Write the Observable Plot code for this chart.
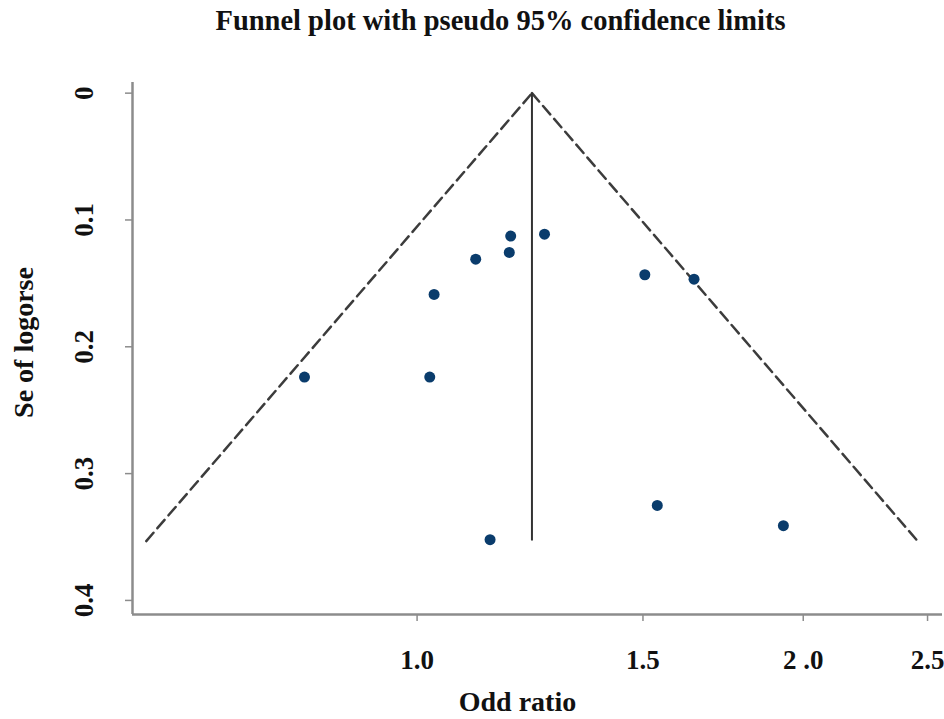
<!DOCTYPE html>
<html>
<head>
<meta charset="utf-8">
<script src="https://cdn.jsdelivr.net/npm/d3@7"></script>
<script src="https://cdn.jsdelivr.net/npm/@observablehq/plot@0.6"></script>
<style>
  html, body { margin: 0; padding: 0; background: #fff; }
  #chart svg { display: block; }
</style>
</head>
<body>
<div id="chart"></div>
<script>
// ---- Data ----
const title = "Funnel plot with pseudo 95% confidence limits";
const xLabel = "Odd ratio";
const yLabel = "Se of logorse";

// study odds ratios and standard errors of log OR
const studyOR = [1.183, 1.257, 1.180, 1.111, 1.031, 1.505, 1.644, 0.817, 1.023, 1.140, 1.539, 1.930];
const studySE = [0.1127, 0.1112, 0.1256, 0.1309, 0.1587, 0.1432, 0.1467, 0.2239, 0.2239, 0.3521, 0.3251, 0.3411];

// pooled estimate and funnel extent
const pooledOR = 1.229;
const maxSE = 0.3532;
const zCrit = 1.96;

// axes
const xTicks = [1.0, 1.5, 2.0, 2.5];
const xTickLabels = ["1.0", "1.5", "2 .0", "2.5"];
const yTicks = [0, 0.1, 0.2, 0.3, 0.4];
const yTickLabels = ["0", "0.1", "0.2", "0.3", "0.4"];
const xDomain = [0.600, 2.568];
const yDomain = [-0.0084, 0.4111];

// ---- Derived tables ----
const studies = studyOR.map((or, i) => ({or, se: studySE[i]}));
const funnelLeft = [
  {or: Math.exp(Math.log(pooledOR) - zCrit * maxSE), se: maxSE},
  {or: pooledOR, se: 0}
];
const funnelRight = [
  {or: pooledOR, se: 0},
  {or: Math.exp(Math.log(pooledOR) + zCrit * maxSE), se: maxSE}
];
const xLab = new Map(xTicks.map((t, i) => [t, xTickLabels[i]]));
const yLab = new Map(yTicks.map((t, i) => [t, yTickLabels[i]]));

const font = "'Liberation Serif', 'Times New Roman', serif";
const axisColor = "#8c8c8c";

const chart = Plot.plot({
  width: 944,
  height: 719,
  marginLeft: 132,
  marginRight: 2,
  marginTop: 82,
  marginBottom: 105,
  style: {fontFamily: font, background: "#fff", color: "#111"},
  x: {type: "log", domain: xDomain},
  y: {domain: yDomain, reverse: true},
  marks: [
    // axis lines
    Plot.ruleX([xDomain[0]], {stroke: axisColor, strokeWidth: 2.5}),
    Plot.ruleY([yDomain[1]], {stroke: axisColor, strokeWidth: 2.5}),
    // ticks
    Plot.axisX({ticks: xTicks, tickSize: 7, stroke: axisColor, strokeWidth: 1.5, tickFormat: () => "", label: null}),
    Plot.axisY({ticks: yTicks, tickSize: 7, stroke: axisColor, strokeWidth: 1.5, tickFormat: () => "", label: null}),
    // tick labels
    Plot.text(xTicks, {
      x: d => d, text: d => xLab.get(d), frameAnchor: "bottom", dy: 46,
      lineAnchor: "middle", fontSize: 27, fontWeight: "bold", fill: "#111"
    }),
    Plot.text(yTicks, {
      y: d => d, text: d => yLab.get(d), frameAnchor: "left", dx: -48,
      rotate: -90, lineAnchor: "middle", textAnchor: "middle",
      fontSize: 27, fontWeight: "bold", fill: "#111"
    }),
    // axis labels and title
    Plot.text([xLabel], {
      text: d => d, frameAnchor: "bottom", dx: -20, dy: 88,
      lineAnchor: "middle", fontSize: 28, fontWeight: "bold", fill: "#111"
    }),
    Plot.text([yLabel], {
      text: d => d, frameAnchor: "left", dx: -108, dy: -6,
      rotate: -90, lineAnchor: "middle", textAnchor: "middle",
      fontSize: 28, fontWeight: "bold", fill: "#111"
    }),
    Plot.text([title], {
      text: d => d, frameAnchor: "top", dx: -37, dy: -62,
      lineAnchor: "middle", fontSize: 28.5, fontWeight: "bold", fill: "#111"
    }),
    // funnel limits
    Plot.line(funnelLeft, {x: "or", y: "se", stroke: "#3c3c3c", strokeWidth: 2.5, strokeDasharray: "11,6"}),
    Plot.line(funnelRight, {x: "or", y: "se", stroke: "#3c3c3c", strokeWidth: 2.5, strokeDasharray: "11,6"}),
    // pooled estimate
    Plot.ruleX([pooledOR], {y1: 0, y2: maxSE, stroke: "#333", strokeWidth: 2}),
    // studies
    Plot.dot(studies, {x: "or", y: "se", r: 5.5, fill: "#0a3c6c", stroke: "none"})
  ]
});

document.getElementById("chart").appendChild(chart);
</script>
</body>
</html>
